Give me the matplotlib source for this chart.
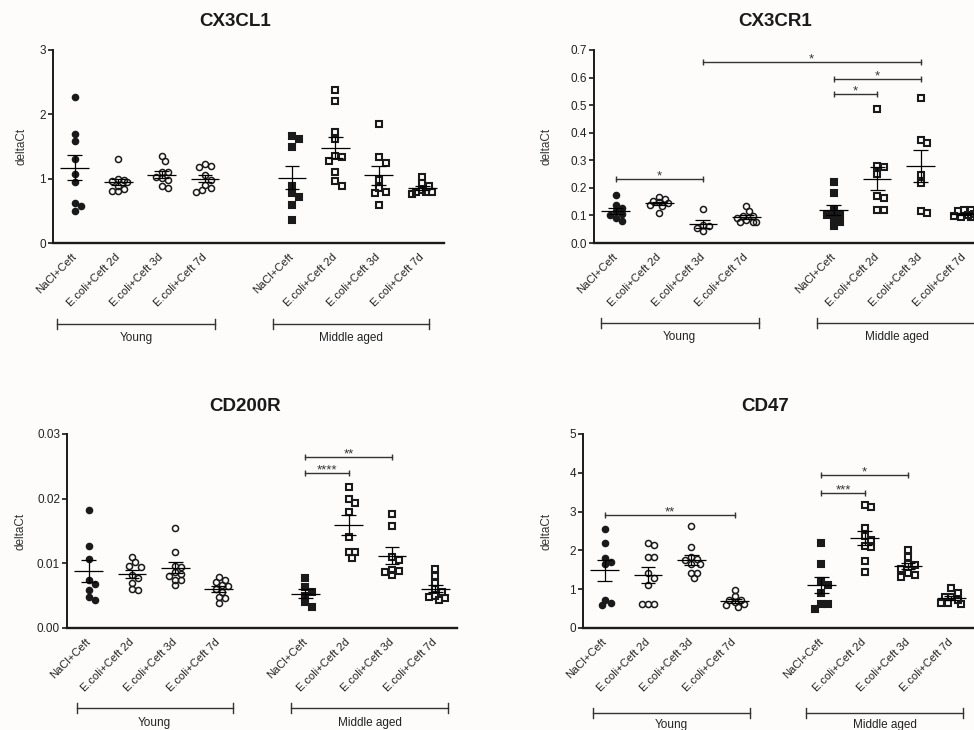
import numpy as np
import matplotlib
matplotlib.use('Agg')
import matplotlib.pyplot as plt
from matplotlib.transforms import blended_transform_factory

plt.rcParams['font.family'] = ['Liberation Sans', 'DejaVu Sans']

BG = '#fdfcfb'
INK = '#1a1a1a'

categories = ["NaCl+Ceft", "E.coli+Ceft 2d", "E.coli+Ceft 3d", "E.coli+Ceft 7d"]
age_groups = ["Young", "Middle aged"]
x_pos = [0, 1, 2, 3, 5, 6, 7, 8]

# ---------------- data (deltaCt) ----------------
cx3cl1_young = [
    [2.27, 1.70, 1.58, 1.30, 1.07, 0.95, 0.62, 0.57, 0.50],
    [1.31, 1.00, 0.98, 0.96, 0.95, 0.88, 0.84, 0.81, 0.81],
    [1.35, 1.27, 1.10, 1.10, 1.03, 1.01, 0.98, 0.88, 0.85],
    [1.23, 1.19, 1.18, 1.05, 0.98, 0.90, 0.85, 0.82, 0.79],
]
cx3cl1_middle = [
    [1.67, 1.61, 1.49, 0.88, 0.78, 0.72, 0.59, 0.35],
    [2.38, 2.20, 1.73, 1.61, 1.36, 1.33, 1.28, 1.10, 0.96, 0.89],
    [1.85, 1.33, 1.25, 0.98, 0.86, 0.79, 0.77, 0.59],
    [1.03, 0.93, 0.88, 0.83, 0.80, 0.79, 0.79, 0.76],
]
cx3cr1_young = [
    [0.175, 0.139, 0.127, 0.115, 0.106, 0.103, 0.091, 0.078],
    [0.167, 0.159, 0.151, 0.147, 0.145, 0.139, 0.133, 0.109],
    [0.124, 0.066, 0.060, 0.054, 0.045],
    [0.133, 0.115, 0.099, 0.097, 0.091, 0.084, 0.075, 0.075, 0.075],
]
cx3cr1_middle = [
    [0.223, 0.181, 0.118, 0.105, 0.103, 0.091, 0.075, 0.060],
    [0.485, 0.280, 0.275, 0.251, 0.171, 0.163, 0.121, 0.121],
    [0.525, 0.374, 0.364, 0.247, 0.217, 0.115, 0.109],
    [0.121, 0.118, 0.115, 0.105, 0.100, 0.097, 0.095, 0.093],
]
cd200r_young = [
    [0.0183, 0.0127, 0.0106, 0.0074, 0.0068, 0.0058, 0.0048, 0.0043],
    [0.0110, 0.0102, 0.0096, 0.0095, 0.0082, 0.0077, 0.0070, 0.0061, 0.0058],
    [0.0155, 0.0118, 0.0096, 0.0095, 0.0087, 0.0084, 0.0081, 0.0075, 0.0074, 0.0066],
    [0.0079, 0.0074, 0.0071, 0.0066, 0.0065, 0.0061, 0.0056, 0.0048, 0.0046, 0.0038],
]
cd200r_middle = [
    [0.0078, 0.0063, 0.0055, 0.0050, 0.0040, 0.0033],
    [0.0218, 0.0200, 0.0193, 0.0180, 0.0141, 0.0118, 0.0118, 0.0109],
    [0.0177, 0.0157, 0.0110, 0.0105, 0.0090, 0.0088, 0.0087, 0.0082],
    [0.0092, 0.0080, 0.0070, 0.0060, 0.0055, 0.0050, 0.0048, 0.0046, 0.0044],
]
cd47_young = [
    [2.54, 2.20, 1.81, 1.71, 1.65, 0.73, 0.65, 0.59],
    [2.20, 2.14, 1.84, 1.84, 1.41, 1.29, 1.12, 0.61, 0.61, 0.61],
    [2.63, 2.09, 1.84, 1.77, 1.75, 1.66, 1.64, 1.42, 1.42, 1.28],
    [0.97, 0.82, 0.72, 0.72, 0.67, 0.61, 0.59, 0.54],
]
cd47_middle = [
    [2.18, 1.66, 1.21, 1.10, 0.90, 0.63, 0.63, 0.50],
    [3.17, 3.11, 2.59, 2.37, 2.28, 2.11, 2.09, 1.72, 1.45],
    [2.01, 1.84, 1.66, 1.62, 1.53, 1.42, 1.36, 1.32],
    [1.02, 0.89, 0.80, 0.80, 0.72, 0.65, 0.65, 0.63],
]

# significance: (group index a, group index b, bracket height, label)
sig_cx3cl1 = []
sig_cx3cr1 = [(0, 2, 0.233, '*'), (2, 6, 0.655, '*'), (4, 6, 0.594, '*'), (4, 5, 0.539, '*')]
sig_cd200r = [(4, 6, 0.0264, '**'), (4, 5, 0.0239, '****')]
sig_cd47 = [(0, 3, 2.91, '**'), (4, 6, 3.95, '*'), (4, 5, 3.49, '***')]

titles = ["CX3CL1", "CX3CR1", "CD200R", "CD47"]
y_max = [3, 0.7, 0.03, 5]
y_step = [1, 0.1, 0.01, 1]
y_fmt = ["{:.0f}", "{:.1f}", "{:.2f}", "{:.0f}"]

# ---------------- layout (pixels) ----------------
W, H = 974, 730
axes_px = [(53, 50, 391, 193), (594, 50, 392, 193), (67, 434, 390, 194), (583, 434, 390, 194)]
title_px = [(235, 21), (775, 21), (245, 406), (765, 406)]
ylabel_x = [-0.066, -0.107, -0.103, -0.077]
group_spans = [
    [(-0.40, 3.23), (4.56, 8.16)],
    [(-0.35, 3.28), (4.62, 8.30)],
    [(-0.28, 3.33), (4.67, 8.30)],
    [(-0.28, 3.35), (4.65, 8.28)],
]
group_y = [(-0.42, -0.49), (-0.415, -0.487), (-0.41, -0.49), (-0.44, -0.50)]

panels = [
    (cx3cl1_young, cx3cl1_middle, sig_cx3cl1),
    (cx3cr1_young, cx3cr1_middle, sig_cx3cr1),
    (cd200r_young, cd200r_middle, sig_cd200r),
    (cd47_young, cd47_middle, sig_cd47),
]

fig = plt.figure(figsize=(W / 100, H / 100), dpi=100, facecolor=BG)

CIRC_PX = 7.6
SQ_PX = 8.4


def swarm_offsets(vals, ymax, h_px, unit_px, d_px):
    """Compact beeswarm: spread close values sideways, allow overlap in dense clusters."""
    ys = np.asarray(vals, dtype=float) / ymax * h_px
    order = np.argsort(-ys)
    step = 0.4 * d_px
    cands = [0.0]
    for j in range(1, 4):
        cands += [j * step, -j * step]
    need = 0.75 * d_px
    placed = []
    offs = np.zeros(len(ys))
    for i in order:
        best, best_d = 0.0, -1.0
        chosen = None
        for c in cands:
            dmin = min([np.hypot(c - px, ys[i] - py) for px, py in placed] or [1e9])
            if dmin >= need:
                chosen = c
                break
            if dmin > best_d:
                best, best_d = c, dmin
        if chosen is None:
            chosen = best
        placed.append((chosen, ys[i]))
        offs[i] = chosen / unit_px
    return offs


for p, (young, middle, sigs) in enumerate(panels):
    lx, ty, wpx, hpx = axes_px[p]
    ax = fig.add_axes([lx / W, (H - ty - hpx) / H, wpx / W, hpx / H])
    ax.set_facecolor(BG)
    ax.set_xlim(-0.5, 8.5)
    ax.set_ylim(0, y_max[p])
    unit_px = wpx / 9.0
    groups = list(young) + list(middle)
    for gi, vals in enumerate(groups):
        x = x_pos[gi]
        is_young = gi < 4
        d_px = CIRC_PX if is_young else SQ_PX
        offs = swarm_offsets(vals, y_max[p], hpx, unit_px, d_px)
        filled = gi in (0, 4)
        if is_young:
            mew = 1.1
            ms = CIRC_PX * 0.72 - mew
            marker = 'o'
        else:
            mew = 1.5
            ms = SQ_PX * 0.72 - mew
            marker = 's'
        ax.plot(x + offs, vals, linestyle='none', marker=marker, markersize=ms,
                markerfacecolor=INK if filled else 'none',
                markeredgecolor=INK, markeredgewidth=mew,
                zorder=3, clip_on=False)
        m = np.mean(vals)
        sem = np.std(vals, ddof=1) / np.sqrt(len(vals))
        ax.hlines(m, x - 0.33, x + 0.33, color='k', lw=0.9, zorder=4)
        ax.vlines(x, m - sem, m + sem, color='k', lw=0.9, zorder=4)
        ax.hlines([m - sem, m + sem], x - 0.17, x + 0.17, color='k', lw=0.9, zorder=4)

    # significance brackets
    tick_h = y_max[p] * 3.0 / hpx
    for a, b, yv, lab in sigs:
        xa, xb = x_pos[a], x_pos[b]
        ax.plot([xa, xb], [yv, yv], color='#333333', lw=1.0, zorder=2)
        ax.vlines([xa, xb], yv - tick_h, yv + tick_h, color='#333333', lw=1.0, zorder=2)
        ax.annotate(lab, xy=((xa + xb) / 2, yv), xytext=(0, -2.5), textcoords='offset points',
                    ha='center', va='bottom', fontsize=9.5, color='#333333')

    # axes styling
    for s in ('top', 'right'):
        ax.spines[s].set_visible(False)
    ax.spines['left'].set_linewidth(1.4)
    ax.spines['bottom'].set_linewidth(1.7)
    ax.spines['left'].set_color(INK)
    ax.spines['bottom'].set_color(INK)
    yt = np.arange(0, y_max[p] + y_step[p] / 2, y_step[p])
    ax.set_yticks(yt)
    ax.set_yticklabels([y_fmt[p].format(v) for v in yt], fontsize=8.5, color='#222222')
    ax.tick_params(axis='y', length=3.5, width=1.2, pad=1.5, color=INK)
    ax.set_xticks(x_pos)
    ax.set_xticklabels(categories + categories, rotation=45, ha='right', va='center',
                       rotation_mode='anchor', fontsize=8, color='#222222')
    ax.tick_params(axis='x', length=0, pad=9)
    ax.set_ylabel("deltaCt", fontsize=8.5, color='#333333')
    ax.yaxis.set_label_coords(ylabel_x[p], 0.5)

    # age-group brackets
    tr = blended_transform_factory(ax.transData, ax.transAxes)
    yb, yl = group_y[p]
    gt = 5.0 / hpx
    for (x0, x1), name in zip(group_spans[p], age_groups):
        ax.plot([x0, x1], [yb, yb], color='#333333', lw=1.0, transform=tr, clip_on=False)
        ax.plot([x0, x0], [yb - gt, yb + gt], color='#333333', lw=1.0, transform=tr, clip_on=False)
        ax.plot([x1, x1], [yb - gt, yb + gt], color='#333333', lw=1.0, transform=tr, clip_on=False)
        ax.text((x0 + x1) / 2, yl, name, transform=tr, ha='center', va='center',
                fontsize=8.5, color='#222222')

    tx, tyy = title_px[p]
    fig.text(tx / W, 1 - tyy / H, titles[p], ha='center', va='center',
             fontsize=13.5, fontweight='bold', color=INK)

fig.savefig('out.png', dpi=100, facecolor=BG)
